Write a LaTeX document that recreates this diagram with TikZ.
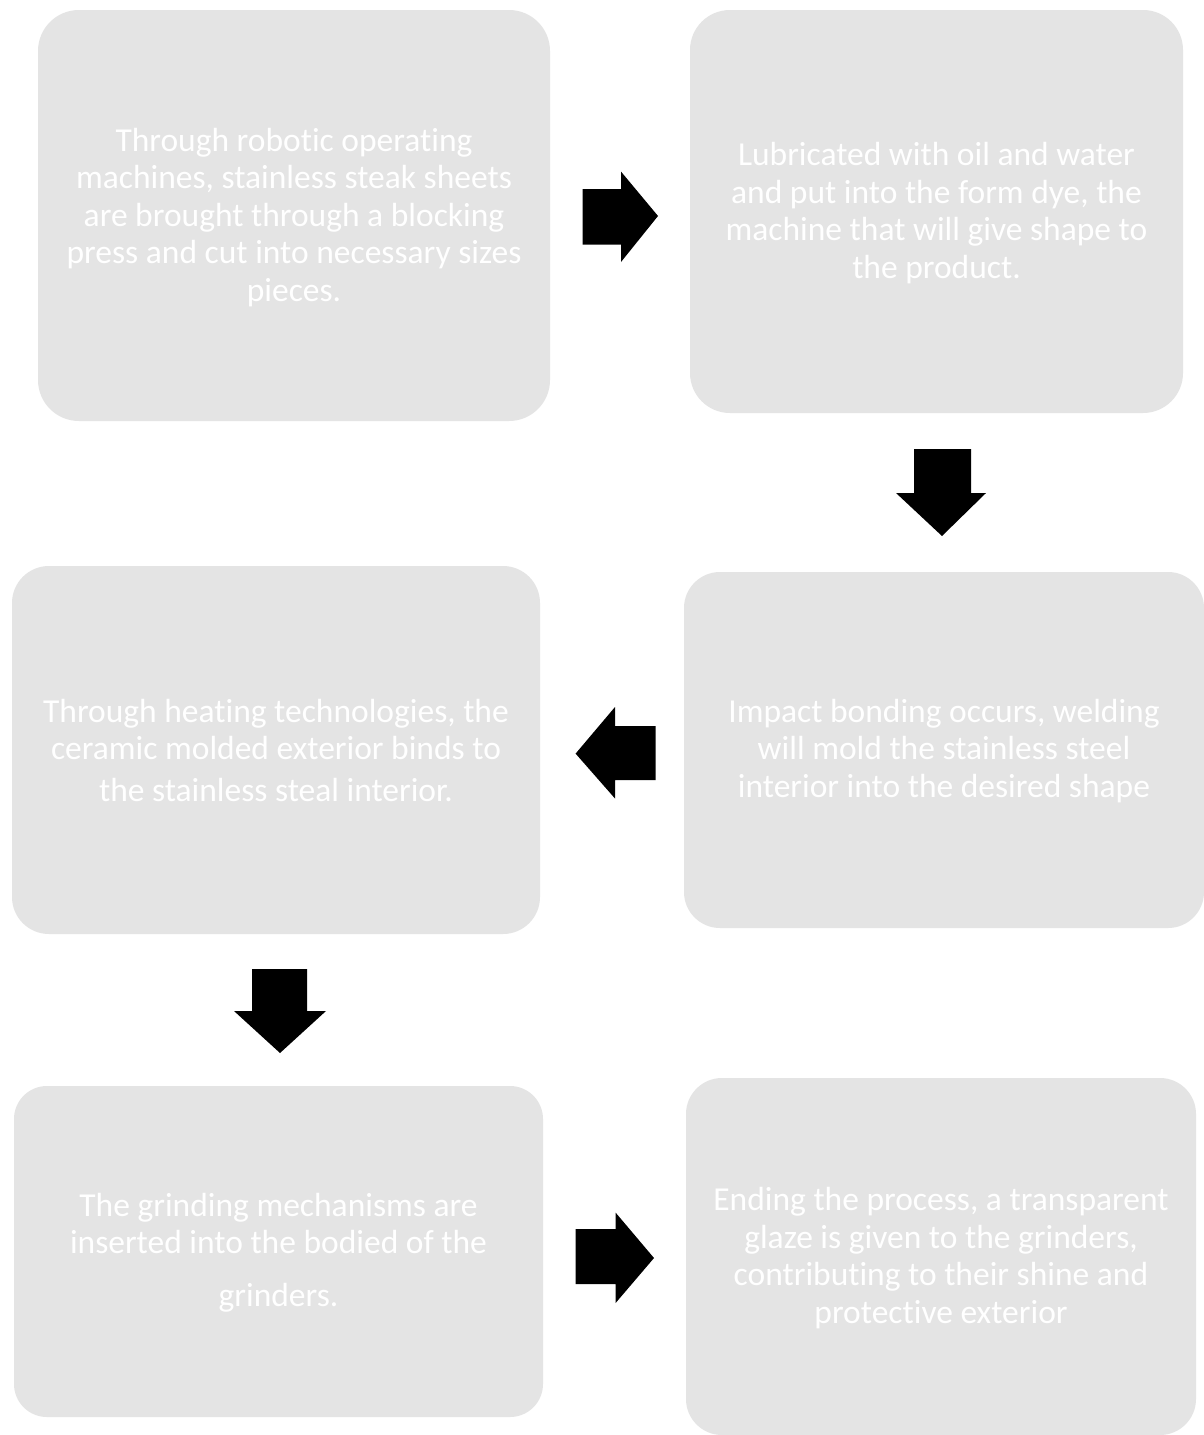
\documentclass[tikz,border=0pt]{standalone}
\usepackage{fontspec}
\setmainfont[Ligatures=NoCommon]{Carlito}
\definecolor{boxgray}{HTML}{E4E4E4}
\begin{document}
\begin{tikzpicture}[x=1pt,y=-1pt,
  stepbox/.style={fill=boxgray, draw=none, inner sep=0pt},
  steptext/.style={text=white, align=center, inner sep=0pt,
    font=\fontsize{33.5}{37.5}\selectfont},
  blockarrow/.style={fill=black, draw=none}]
\useasboundingbox (0,0) rectangle (1204,1435);
\fill[white] (0,0) rectangle (1204,1435);

\node[stepbox, minimum width=512pt, minimum height=411pt, rounded corners=41pt] (b1) at (294,215.5) {};
\node[steptext] (t1) at ([yshift=-2pt]b1.center)
 {Through robotic operating\\machines, stainless steak sheets\\are brought through a blocking\\press and cut into necessary sizes\\pieces.};
\node[stepbox, minimum width=493pt, minimum height=403pt, rounded corners=40pt] (b2) at (936.5,211.5) {};
\node[steptext] (t2) at ([yshift=-1.5pt]b2.center)
 {Lubricated with oil and water\\and put into the form dye, the\\machine that will give shape to\\the product.};
\node[stepbox, minimum width=520pt, minimum height=356pt, rounded corners=36pt] (b3) at (944,750) {};
\node[steptext] (t3) at ([yshift=-1pt]b3.center)
 {Impact bonding occurs, welding\\will mold the stainless steel\\interior into the desired shape};
\node[stepbox, minimum width=528pt, minimum height=368pt, rounded corners=37pt] (b4) at (276,750) {};
\node[steptext] (t4) at ([yshift=0pt]b4.center)
 {Through heating technologies, the\\ceramic molded exterior binds to\\[4pt]the stainless steal interior.};
\node[stepbox, minimum width=529pt, minimum height=331pt, rounded corners=33pt] (b5) at (278.5,1251.5) {};
\node[steptext] (t5) at ([yshift=-1pt]b5.center)
 {The grinding mechanisms are\\inserted into the bodied of the\\[15pt]grinders.};
\node[stepbox, minimum width=510pt, minimum height=357pt, rounded corners=36pt] (b6) at (941,1256.5) {};
\node[steptext] (t6) at ([yshift=-1.5pt]b6.center)
 {Ending the process, a transparent\\glaze is given to the grinders,\\contributing to their shine and\\protective exterior};

% block arrows
\fill[blockarrow] (582.6,189) -- (621,189) -- (621,171.6) -- (658,216) -- (621,262) -- (621,244.6) -- (582.6,244.6) -- cycle;
\fill[blockarrow] (914,449) -- (971,449) -- (971,493) -- (986,493) -- (942,536) -- (896,493) -- (914,493) -- cycle;
\fill[blockarrow] (655.6,726) -- (615,726) -- (615,707) -- (575.6,753.6) -- (615,798.5) -- (615,780) -- (655.6,780) -- cycle;
\fill[blockarrow] (252,969) -- (307,969) -- (307,1011) -- (326,1011) -- (280,1053) -- (234,1011) -- (252,1011) -- cycle;
\fill[blockarrow] (575.6,1229) -- (615.6,1229) -- (615.6,1212.6) -- (654,1258) -- (615.6,1303) -- (615.6,1284) -- (575.6,1284) -- cycle;
\end{tikzpicture}
\end{document}
